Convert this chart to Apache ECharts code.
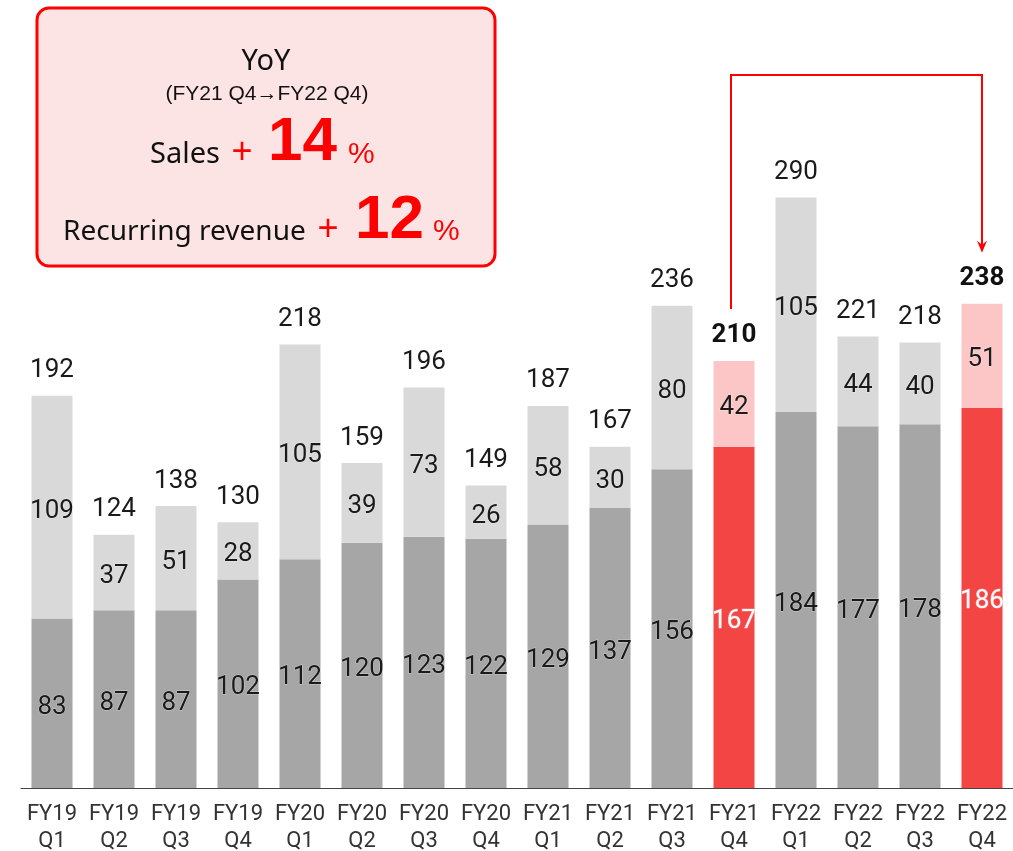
<!DOCTYPE html>
<html>
<head>
<meta charset="utf-8">
<script src="https://cdn.jsdelivr.net/npm/echarts@6/dist/echarts.min.js"></script>
<style>
  html, body { margin: 0; padding: 0; background: #fff; }
  #main { width: 1013px; height: 851px; }
</style>
</head>
<body>
<div id="main"></div>
<script>
// quarters
var categories = ['FY19\nQ1', 'FY19\nQ2', 'FY19\nQ3', 'FY19\nQ4',
  'FY20\nQ1', 'FY20\nQ2', 'FY20\nQ3', 'FY20\nQ4',
  'FY21\nQ1', 'FY21\nQ2', 'FY21\nQ3', 'FY21\nQ4',
  'FY22\nQ1', 'FY22\nQ2', 'FY22\nQ3', 'FY22\nQ4'];
// lower part (recurring)
var recurring = [83, 87, 87, 102, 112, 120, 123, 122, 129, 137, 156, 167, 184, 177, 178, 186];
// upper part
var others = [109, 37, 51, 28, 105, 39, 73, 26, 58, 30, 80, 42, 105, 44, 40, 51];
// totals printed above the bars
var totals = [192, 124, 138, 130, 218, 159, 196, 149, 187, 167, 236, 210, 290, 221, 218, 238];
// highlighted quarters (FY21 Q4, FY22 Q4)
var highlight = [11, 15];

var myChart = echarts.init(document.getElementById('main'));

var darkGray = '#a6a6a6', lightGray = '#d9d9d9', red = '#f44545', pink = '#fcc6c6';
var numFont = 'Roboto';

function isHi(i) { return highlight.indexOf(i) >= 0; }

var lowData = recurring.map(function (v, i) {
  var hi = isHi(i);
  return {
    value: v,
    itemStyle: { color: hi ? red : darkGray },
    label: hi ? { color: '#fff', textBorderColor: 'rgba(255,150,150,0.8)', textBorderWidth: 1 } : {}
  };
});
var upData = others.map(function (v, i) {
  return { value: v, itemStyle: { color: isHi(i) ? pink : lightGray } };
});
var topData = totals.map(function (v, i) {
  return { value: 0, label: isHi(i) ? { fontWeight: 'bold', color: '#111' } : {} };
});

var insideLabel = {
  show: true, position: 'inside', offset: [0, 4], fontFamily: numFont, fontSize: 26, color: '#1a1a1a',
  textBorderColor: 'rgba(255,255,255,0.4)', textBorderWidth: 1
};

myChart.setOption({
  animation: false,
  grid: { left: 21, right: 0, top: 175, bottom: 63, outerBoundsMode: 'none', containLabel: false },
  xAxis: {
    type: 'category',
    data: categories,
    axisLine: { lineStyle: { color: '#444', width: 1 } },
    axisTick: { show: false },
    axisLabel: {
      fontFamily: numFont, fontSize: 22, color: '#333',
      lineHeight: 27, margin: 13, interval: 0
    }
  },
  yAxis: { type: 'value', min: 0, max: 300, show: false, splitLine: { show: false } },
  series: [
    {
      name: 'recurring', type: 'bar', stack: 'all', barWidth: 41,
      data: lowData,
      label: insideLabel
    },
    {
      name: 'others', type: 'bar', stack: 'all', barWidth: 41,
      data: upData,
      label: insideLabel
    },
    {
      name: 'total', type: 'bar', stack: 'all', barWidth: 41,
      data: topData,
      itemStyle: { color: 'transparent' },
      label: {
        show: true, position: 'top', distance: 12, fontFamily: numFont, fontSize: 26, color: '#1a1a1a',
        formatter: function (p) { return totals[p.dataIndex]; }
      }
    }
  ],
  graphic: [
    {
      type: 'rect', id: 'box',
      shape: { x: 37, y: 8, width: 458, height: 258, r: 12 },
      style: { fill: '#fde4e4', stroke: '#ff0000', lineWidth: 3 }
    },
    { type: 'text', style: { text: 'YoY', x: 266, y: 62, fontFamily: 'Noto Sans', fontSize: 29, fill: '#111', align: 'center', verticalAlign: 'middle' } },
    { type: 'text', style: { text: '(FY21 Q4\u2192FY22 Q4)', x: 267, y: 94, fontFamily: 'Liberation Sans', fontSize: 21, fill: '#111', align: 'center', verticalAlign: 'middle' } },
    { type: 'text', style: { text: 'Sales', x: 150, y: 155, fontFamily: 'Noto Sans', fontSize: 29, fill: '#111', align: 'left', verticalAlign: 'middle' } },
    { type: 'text', style: { text: '+', x: 242, y: 153, fontFamily: 'Liberation Sans', fontSize: 36, fill: '#ff0000', align: 'center', verticalAlign: 'middle' } },
    { type: 'text', style: { text: '14', x: 268, y: 143, fontFamily: 'Liberation Sans', fontWeight: 'bold', fontSize: 62, fill: '#ff0000', align: 'left', verticalAlign: 'middle' } },
    { type: 'text', style: { text: '%', x: 348, y: 155, fontFamily: 'Liberation Sans', fontSize: 30, fill: '#ff0000', align: 'left', verticalAlign: 'middle' } },
    { type: 'text', style: { text: 'Recurring revenue', x: 63, y: 232, fontFamily: 'Noto Sans', fontSize: 28, fill: '#111', align: 'left', verticalAlign: 'middle' } },
    { type: 'text', style: { text: '+', x: 328, y: 230, fontFamily: 'Liberation Sans', fontSize: 36, fill: '#ff0000', align: 'center', verticalAlign: 'middle' } },
    { type: 'text', style: { text: '12', x: 355, y: 221, fontFamily: 'Liberation Sans', fontWeight: 'bold', fontSize: 62, fill: '#ff0000', align: 'left', verticalAlign: 'middle' } },
    { type: 'text', style: { text: '%', x: 433, y: 232, fontFamily: 'Liberation Sans', fontSize: 30, fill: '#ff0000', align: 'left', verticalAlign: 'middle' } }
  ]
});

// arrow from FY21 Q4 total to FY22 Q4 total
var from = myChart.convertToPixel({ gridIndex: 0 }, [highlight[0], totals[highlight[0]]]);
var to = myChart.convertToPixel({ gridIndex: 0 }, [highlight[1], totals[highlight[1]]]);
var topY = 75;
var startY = from[1] - 50;
var tipY = to[1] - 49;
myChart.setOption({
  graphic: [
    {
      type: 'polyline', id: 'arrowLine',
      shape: { points: [[from[0] - 3, startY], [from[0] - 3, topY], [to[0], topY], [to[0], tipY - 6]] },
      style: { stroke: '#ff0000', lineWidth: 2, fill: null }
    },
    {
      type: 'polygon', id: 'arrowHead',
      shape: { points: [[to[0] - 5, tipY - 12], [to[0], tipY - 8], [to[0] + 5, tipY - 12], [to[0], tipY]] },
      style: { fill: '#ff0000' }
    }
  ]
});
</script>
</body>
</html>
